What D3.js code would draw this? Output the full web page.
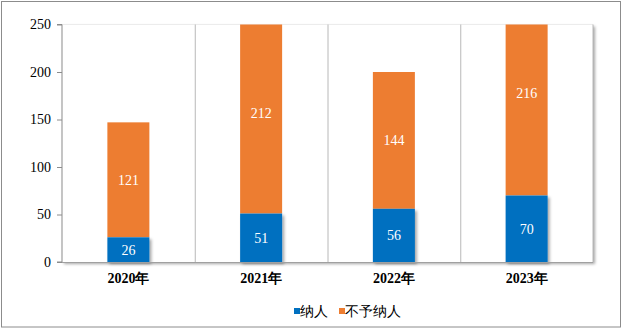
<!DOCTYPE html>
<html><head><meta charset="utf-8">
<script src="https://cdn.jsdelivr.net/npm/d3@7"></script>
<style>body{margin:0;background:#fff}svg{display:block}</style>
</head><body>
<svg id="c" width="626" height="329"></svg>
<script>
const categories = ["2020年", "2021年", "2022年", "2023年"];
const included = [26, 51, 56, 70];
const notIncluded = [121, 212, 144, 216];
const yTicks = [0, 50, 100, 150, 200, 250];
const seriesNames = ["纳人", "不予纳人"];
const colors = ["#0070C0", "#ED7D31"];

const svg = d3.select("#c");
const m = {l: 62, r: 593, t: 24.5, b: 262};
const x = d3.scaleBand().domain(categories).range([m.l, m.r]).paddingInner(0).paddingOuter(0);
const y = d3.scaleLinear().domain([0, 250]).range([m.b, m.t]);
const SF = '"Liberation Serif"';

const defs = svg.append("defs");
const f = defs.append("filter").attr("id", "sh").attr("x", "-20%").attr("y", "-20%").attr("width", "150%").attr("height", "150%");
f.append("feDropShadow").attr("dx", 2).attr("dy", 2).attr("stdDeviation", 1.5).attr("flood-color", "#000").attr("flood-opacity", 0.35);
defs.append("clipPath").attr("id", "pc").append("rect")
  .attr("x", m.l).attr("y", m.t).attr("width", m.r - m.l).attr("height", m.b - m.t + 5);

svg.append("rect").attr("x", 1.5).attr("y", 1.5).attr("width", 619).attr("height", 325.5)
  .attr("fill", "#fff").attr("stroke", "#8c8c8c").attr("stroke-width", 1);

svg.append("rect").attr("x", m.l).attr("y", m.t).attr("width", m.r - m.l).attr("height", m.b - m.t)
  .attr("fill", "#fff").attr("filter", "url(#sh)");
svg.append("line").attr("x1", m.l).attr("x2", m.r).attr("y1", m.t).attr("y2", m.t).attr("stroke", "#ececec");
svg.append("line").attr("x1", m.r).attr("x2", m.r).attr("y1", m.t).attr("y2", m.b).attr("stroke", "#b8b8b8");

categories.slice(1).forEach(c => {
  svg.append("line").attr("x1", x(c) + 0.5).attr("x2", x(c) + 0.5).attr("y1", m.t).attr("y2", m.b)
    .attr("stroke", "#b8b8b8");
});

const bw = 42;
const g = svg.append("g").attr("clip-path", "url(#pc)");
categories.forEach((c, i) => {
  const cx = x(c) + x.bandwidth() / 2;
  const a = included[i], b = notIncluded[i];
  g.append("rect").attr("x", cx - bw / 2).attr("width", bw)
    .attr("y", y(a + b)).attr("height", y(a) - y(a + b)).attr("fill", colors[1]);
  g.append("rect").attr("x", cx - bw / 2).attr("width", bw)
    .attr("y", y(a)).attr("height", y(0) - y(a)).attr("fill", colors[0]).attr("filter", "url(#sh)");
  svg.append("text").style("font-family", SF).attr("x", cx).attr("y", y(a / 2)).attr("dy", "0.35em").attr("text-anchor", "middle")
    .attr("font-size", 14).attr("fill", "#fff").text(a);
  svg.append("text").style("font-family", SF).attr("x", cx).attr("y", y(a + b / 2)).attr("dy", "0.35em").attr("text-anchor", "middle")
    .attr("font-size", 14).attr("fill", "#fff").text(b);
});

const ya = svg.append("g").attr("transform", `translate(${m.l},0)`)
  .call(d3.axisLeft(y).tickValues(yTicks).tickSize(5).tickPadding(6));
ya.select(".domain").attr("stroke", "#8c8c8c").attr("d", `M-5,${m.t}H0V${m.b}H-5`);
ya.selectAll(".tick line").attr("stroke", "#8c8c8c");
ya.selectAll("text").style("font-family", SF).attr("font-size", 14).attr("fill", "#000");

svg.append("line").attr("x1", m.l).attr("x2", m.r).attr("y1", m.b + 0.5).attr("y2", m.b + 0.5).attr("stroke", "#a0a0a0");

categories.forEach(c => {
  svg.append("text").style("font-family", SF).attr("x", x(c) + x.bandwidth() / 2).attr("y", 283).attr("text-anchor", "middle")
    .attr("font-weight", "bold").attr("font-size", 14).attr("fill", "#000").text(c);
});

const items = [{x: 294, i: 0}, {x: 339, i: 1}];
items.forEach(it => {
  svg.append("rect").attr("x", it.x).attr("y", 308).attr("width", 6).attr("height", 6).attr("fill", colors[it.i]);
  svg.append("text").style("font-family", SF).attr("x", it.x + 6).attr("y", 316)
    .attr("font-size", 14).attr("fill", "#000").text(seriesNames[it.i]);
});
</script>
</body></html>
